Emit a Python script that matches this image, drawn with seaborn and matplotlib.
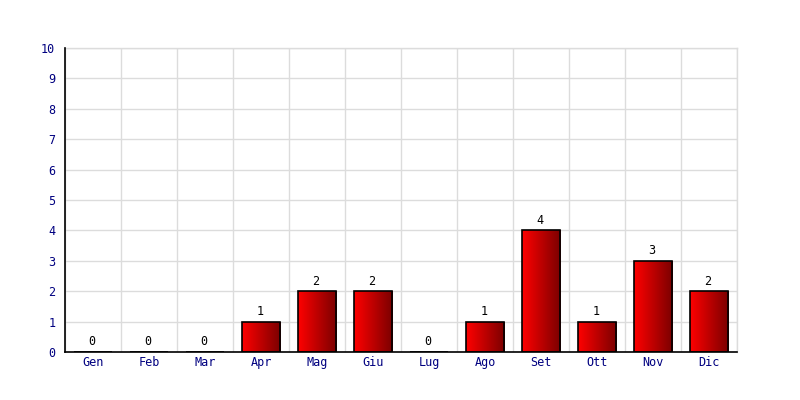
import numpy as np
import pandas as pd
import seaborn as sns
import matplotlib.pyplot as plt
from matplotlib.colors import LinearSegmentedColormap

# dati mensili
mesi = ['Gen', 'Feb', 'Mar', 'Apr', 'Mag', 'Giu', 'Lug', 'Ago', 'Set', 'Ott', 'Nov', 'Dic']
valori = [0, 0, 0, 1, 2, 2, 0, 1, 4, 1, 3, 2]
y_ticks = list(range(0, 11))

df = pd.DataFrame({'mese': mesi, 'valore': valori})

sns.set_style('white')
plt.rcParams['font.family'] = ['DejaVu Sans Mono']

fig = plt.figure(figsize=(8, 4), dpi=100)
ax = fig.add_axes([0.08125, 0.12, 0.84, 0.76])

sns.barplot(data=df, x='mese', y='valore', ax=ax, width=0.68,
            facecolor='none', edgecolor='black', linewidth=1.2, zorder=3)

# gradiente rosso da sinistra a destra
cmap = LinearSegmentedColormap.from_list('rosso', ['#ff0000', '#7a0000'])
grad = np.linspace(0, 1, 256).reshape(1, -1)
for p in ax.patches:
    h = p.get_height()
    if h <= 0:
        continue
    x0 = p.get_x()
    w = p.get_width()
    im = ax.imshow(grad, cmap=cmap, aspect='auto',
                   extent=[x0, x0 + w, 0, h], zorder=2)
    im.set_clip_path(p)

for i, v in enumerate(valori):
    ax.text(i - 0.02, v + 0.12, str(v), ha='center', va='bottom',
            fontsize=8.5, color='black')

ax.set_xlim(-0.5, len(mesi) - 0.5)
ax.set_ylim(0, 10)
ax.set_yticks(y_ticks)
ax.set_xticks(np.arange(-0.5, len(mesi), 1), minor=True)
ax.grid(True, axis='y', color='#dcdcdc', linewidth=1, zorder=0)
ax.grid(True, axis='x', which='minor', color='#dcdcdc', linewidth=1, zorder=0)
ax.grid(False, axis='x', which='major')
ax.set_axisbelow(True)

ax.tick_params(axis='both', which='both', length=0, labelsize=8.5,
               labelcolor='#000080')
ax.tick_params(axis='y', pad=7)
ax.tick_params(axis='x', pad=3)
ax.set_xlabel('')
ax.set_ylabel('')

for s in ['top', 'right']:
    ax.spines[s].set_color('#dcdcdc')
    ax.spines[s].set_linewidth(1)
for s in ['left', 'bottom']:
    ax.spines[s].set_color('black')
    ax.spines[s].set_linewidth(1.2)
    ax.spines[s].set_zorder(5)

fig.savefig('out.png', dpi=100, facecolor='white')
